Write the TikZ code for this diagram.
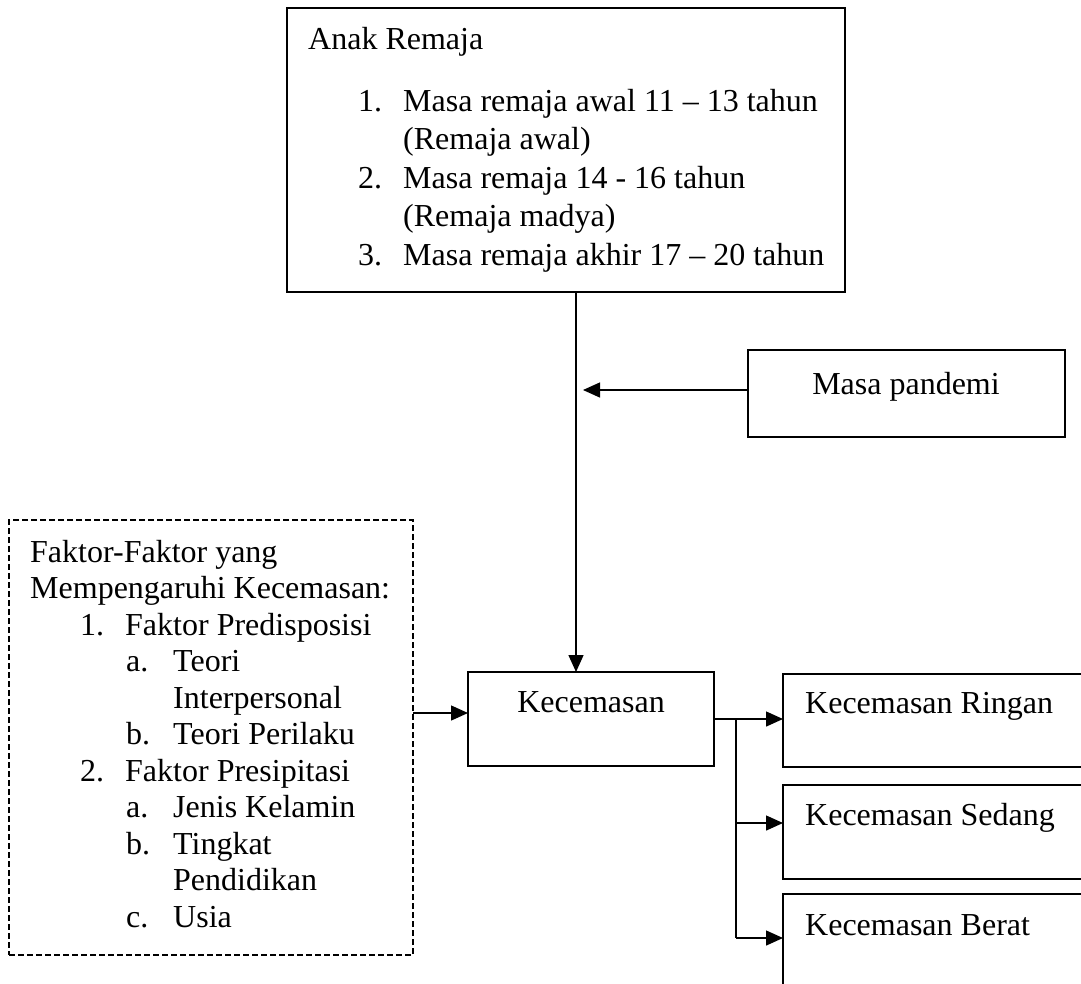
\documentclass[tikz,border=0pt]{standalone}
\usepackage{fontspec}
\setmainfont{Liberation Serif}
\usetikzlibrary{arrows.meta}
\begin{document}
\begin{tikzpicture}[x=1pt,y=-1pt,
  box/.style={draw, line width=1.4pt, rectangle, inner sep=0pt, outer sep=0pt, anchor=north west},
  dbox/.style={box, dash pattern=on 6pt off 3pt, line width=1.1pt},
  txt/.style={inner sep=0pt, anchor=base west, font=\fontsize{32}{38}\selectfont},
  ctxt/.style={txt, anchor=base},
  arr/.style={line width=1.4pt, -{Triangle[length=17pt,width=15pt]}},
  ln/.style={line width=1.4pt}]
\useasboundingbox (0,0) rectangle (1081,983);
\clip (0,0) rectangle (1081,983);

% boxes
\node[box, minimum width=558pt, minimum height=284pt] (remaja) at (287,8) {};
\node[box, minimum width=317pt, minimum height=87pt] (pandemi) at (748,350) {};
\node[dbox, minimum width=404pt, minimum height=435pt] (faktor) at (9,520) {};
\node[box, minimum width=246pt, minimum height=94pt] (kec) at (468,672) {};
\node[box, minimum width=330pt, minimum height=93pt] (ringan) at (783,674) {};
\node[box, minimum width=330pt, minimum height=94pt] (sedang) at (783,785) {};
\node[box, minimum width=330pt, minimum height=130pt] (berat) at (783,894) {};

% top box text
\node[txt] (r0) at (308,49) {Anak Remaja};
\node[txt] (r1n) at (358,111) {1.};
\node[txt] (r1) at (403,111) {Masa remaja awal 11 – 13 tahun};
\node[txt] (r1b) at (403,149.5) {(Remaja awal)};
\node[txt] (r2n) at (358,188) {2.};
\node[txt] (r2) at (403,188) {Masa remaja 14 - 16 tahun};
\node[txt] (r2b) at (403,226.5) {(Remaja madya)};
\node[txt] (r3n) at (358,265) {3.};
\node[txt] (r3) at (403,265) {Masa remaja akhir 17 – 20 tahun};

% pandemi text
\node[ctxt] (pt) at (906,394) {Masa pandemi};

% faktor text
\node[txt] (f0) at (30,562) {Faktor-Faktor yang};
\node[txt] (f1) at (30,598.5) {Mempengaruhi Kecemasan:};
\node[txt] (f2n) at (80,635) {1.};
\node[txt] (f2) at (125,635) {Faktor Predisposisi};
\node[txt] (f3n) at (126,671.5) {a.};
\node[txt] (f3) at (173,671.5) {Teori};
\node[txt] (f4) at (173,708) {Interpersonal};
\node[txt] (f5n) at (126,744.5) {b.};
\node[txt] (f5) at (173,744.5) {Teori Perilaku};
\node[txt] (f6n) at (80,781) {2.};
\node[txt] (f6) at (125,781) {Faktor Presipitasi};
\node[txt] (f7n) at (126,817.5) {a.};
\node[txt] (f7) at (173,817.5) {Jenis Kelamin};
\node[txt] (f8n) at (126,854) {b.};
\node[txt] (f8) at (173,854) {Tingkat};
\node[txt] (f9) at (173,890.5) {Pendidikan};
\node[txt] (f10n) at (126,927) {c.};
\node[txt] (f10) at (173,927) {Usia};

% kecemasan texts
\node[ctxt] (kt) at (591,712) {Kecemasan};
\node[txt] (rt) at (805,713) {Kecemasan Ringan};
\node[txt] (st) at (805,825) {Kecemasan Sedang};
\node[txt] (bt) at (805,935) {Kecemasan Berat};

% connectors
\coordinate (vx) at (576,0);
\draw[arr] (remaja.south -| vx) -- (kec.north -| vx);
\coordinate (px) at (583,0);
\draw[arr] ([yshift=3.5pt]pandemi.west) -- ([yshift=3.5pt]pandemi.west -| px);
\draw[arr] ([yshift=6pt]kec.west -| faktor.east) -- ([yshift=6pt]kec.west);
\draw[arr] (kec.east) -- (kec.east -| ringan.west);
\coordinate (j0) at (736,719);
\coordinate (j1) at (736,823);
\coordinate (j2) at (736,938);
\draw[ln] (j0) -- (j2);
\draw[arr] (j1) -- (j1 -| sedang.west);
\draw[arr] (j2) -- (j2 -| berat.west);
\end{tikzpicture}
\end{document}
